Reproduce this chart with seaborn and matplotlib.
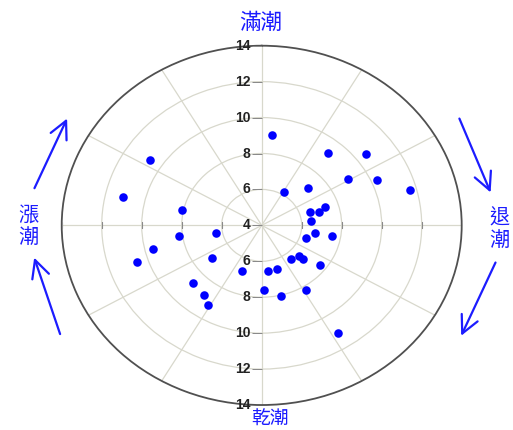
import numpy as np
import pandas as pd
import matplotlib
matplotlib.use("Agg")
import matplotlib.pyplot as plt
import seaborn as sns

# tide phase (degrees clockwise from high tide) and radial value of each point
theta_deg = [6.0, 303.0, 282.8, 39.5, 52.6, 59.0, 66.5, 75.3, 31.2, 48.2,
             282.1, 72.5, 75.1, 72.5, 84.4, 259.5, 261.8, 107.4, 99.5, 99.9,
             256.5, 251.8, 233.9, 142.2, 131.9, 132.2, 127.5, 201.5, 173.3, 162.4,
             226.7, 216.7, 211.1, 177.9, 166.0, 148.5, 147.3]
r_vals = [9.08, 10.66, 11.10, 9.23, 10.55, 9.03, 10.27, 11.67, 6.18, 7.08,
          8.06, 6.52, 6.95, 7.33, 6.46, 6.34, 8.16, 6.31, 6.69, 7.55,
          9.57, 10.58, 7.06, 6.37, 6.53, 6.79, 7.65, 6.73, 6.56, 6.53,
          8.70, 8.83, 9.17, 7.60, 8.05, 8.21, 11.09]

r_ticks = [4, 6, 8, 10, 12, 14]
spoke_deg = list(range(0, 360, 30))

# labels around the dial
top_label = "滿潮"
bottom_label = "乾潮"
left_label = "漲\n潮"
right_label = "退\n潮"

df = pd.DataFrame({"theta": np.radians(theta_deg), "r": r_vals})

plt.rcParams['font.family'] = ['Liberation Sans', 'DejaVu Sans']
cjk = ['Noto Sans CJK TC', 'DejaVu Sans']
blue = '#1c1cff'
grid_col = '#d8d8cc'

fig = plt.figure(figsize=(5.13, 4.30), dpi=100)
ax = fig.add_axes([0.1203, 0.0581, 0.7797, 0.8356], projection='polar')
ax.set_theta_zero_location('N')
ax.set_theta_direction(-1)

sns.scatterplot(data=df, x="theta", y="r", ax=ax, color='#0000ff',
                s=38, edgecolor='#0000ff', linewidth=0, zorder=5)

ax.set_ylim(r_ticks[0], r_ticks[-1])
ax.set_aspect('auto')  # stretched dial like the original image
ax.set_xlabel("")
ax.set_ylabel("")

ax.set_thetagrids(spoke_deg, labels=[''] * len(spoke_deg))
ax.set_rgrids(r_ticks[1:-1], labels=[''] * (len(r_ticks) - 2))
ax.grid(True, color=grid_col, linewidth=0.9)
ax.spines['polar'].set_color('#505050')
ax.spines['polar'].set_linewidth(1.3)
ax.tick_params(axis='x', length=5, direction='out', color='#666666', width=1)
ax.tick_params(axis='y', length=0)

# radial value labels up and down the vertical spoke
left_tick = [(-1, 0), (0, 0)]
for rv in r_ticks:
    for th in ([0] if rv == r_ticks[0] else [0, np.pi]):
        ax.annotate(str(rv), xy=(th, rv), xytext=(-11, 0), textcoords='offset pixels',
                    ha='right', va='center', fontsize=10, fontweight='bold',
                    color='#222222', zorder=6)
        ax.plot([th], [rv], marker=left_tick, markersize=14, color='#8a8a8a',
                markeredgewidth=0.7, zorder=6)
    if rv > r_ticks[0]:
        ax.plot([np.pi / 2, 3 * np.pi / 2], [rv, rv], linestyle='none', marker='|',
                markersize=5, color='#8a8a8a', markeredgewidth=0.8, zorder=6)

# tide labels
fig.text(0.509, 0.947, top_label, ha='center', va='center', fontsize=15.5,
         color=blue, family=cjk)
fig.text(0.527, 0.0, bottom_label, ha='center', va='bottom', fontsize=13.5,
         color=blue, family=cjk)
fig.text(0.055, 0.474, left_label, ha='center', va='center', fontsize=14.5,
         color=blue, family=cjk, linespacing=1.05)
fig.text(0.973, 0.467, right_label, ha='center', va='center', fontsize=14.5,
         color=blue, family=cjk, linespacing=1.05)

# direction arrows (figure fraction: tail -> head)
arrows = [((0.0649, 0.5565), (0.1331, 0.7302)),
          ((0.1189, 0.2170), (0.0649, 0.4070)),
          ((0.8934, 0.7302), (0.9585, 0.5465)),
          ((0.9682, 0.3953), (0.8967, 0.2133))]
for tail, head in arrows:
    fig.add_artist(matplotlib.patches.FancyArrowPatch(
        tail, head, transform=fig.transFigure, arrowstyle='->,head_length=0.9,head_width=0.45',
        mutation_scale=14, color=blue, linewidth=1.6))

fig.savefig("out.png", dpi=100)
